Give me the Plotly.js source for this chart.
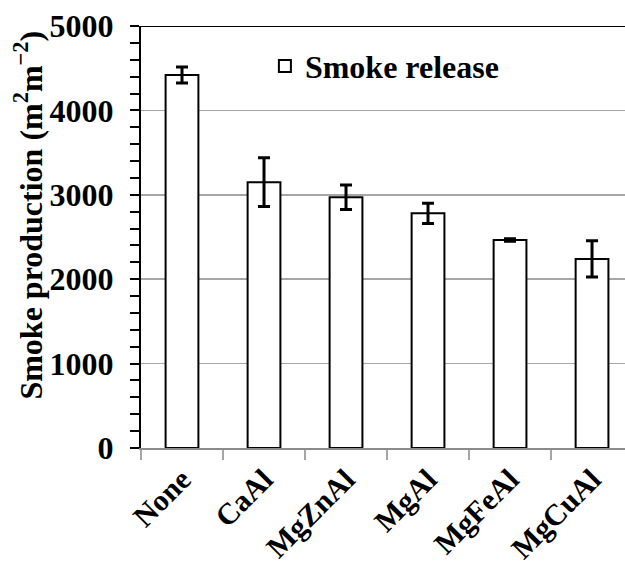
<!DOCTYPE html>
<html>
<head>
<meta charset="utf-8">
<script src="https://cdn.plot.ly/plotly-3.0.1.min.js"></script>
<style>html,body{margin:0;padding:0;background:#fff;}#chart{width:625px;height:570px;}</style>
</head>
<body>
<div id="chart"></div>
<script>
const categories = ['None', 'CaAl', 'MgZnAl', 'MgAl', 'MgFeAl', 'MgCuAl'];
const smokeRelease = [4420, 3150, 2970, 2780, 2465, 2240];
const smokeError = [95, 290, 145, 120, 15, 215];
const yTickValues = [0, 1000, 2000, 3000, 4000, 5000];
const yTickLabels = ['0', '1000', '2000', '3000', '4000', '5000'];
const yTitle = 'Smoke production (m<sup>2</sup>m<sup>\u22122</sup>)';

const FONT = 'Liberation Serif, Times New Roman, serif';
const SIZE = 32;

const trace = {
  type: 'bar',
  name: 'Smoke release',
  x: categories,
  y: smokeRelease,
  width: 0.4,
  marker: { color: '#ffffff', line: { color: '#000000', width: 2 } },
  error_y: { type: 'data', array: smokeError, visible: true, color: '#000000', thickness: 3, width: 6 }
};

const layout = {
  width: 625,
  height: 570,
  autosize: false,
  margin: { l: 141, r: 0, t: 26, b: 122, pad: 0 },
  paper_bgcolor: '#ffffff',
  plot_bgcolor: '#ffffff',
  font: { family: FONT, size: SIZE, color: '#000000', weight: 'bold' },
  showlegend: true,
  legend: {
    x: 0.256, xanchor: 'left', y: 0.905, yanchor: 'middle',
    bgcolor: 'rgba(0,0,0,0)',
    font: { family: FONT, size: SIZE, color: '#000000', weight: 'bold' }
  },
  xaxis: {
    type: 'category',
    range: [-0.5, 5.402],
    showline: true, linecolor: '#8c8c8c', linewidth: 2,
    ticks: 'outside', tickson: 'boundaries', ticklen: 10, tickwidth: 1.5, tickcolor: '#a6a6a6',
    tickangle: -45,
    ticklabelstandoff: 0,
    tickfont: { family: FONT, size: 30, color: '#000000', weight: 'bold' },
    showgrid: false, zeroline: false, fixedrange: true
  },
  yaxis: {
    range: [0, 5000],
    tickmode: 'array', tickvals: yTickValues, ticktext: yTickLabels,
    showline: true, linecolor: '#000000', linewidth: 2,
    ticks: 'outside', ticklen: 9, tickwidth: 2, tickcolor: '#000000',
    ticklabelstandoff: 10,
    minor: { dtick: 200, ticks: 'outside', ticklen: 9, tickwidth: 2, tickcolor: '#000000', showgrid: false },
    showgrid: true, gridcolor: '#a6a6a6', gridwidth: 1.5,
    zeroline: false,
    tickfont: { family: FONT, size: SIZE, color: '#000000', weight: 'bold' },
    fixedrange: true
  },
  annotations: [{
    text: yTitle,
    xref: 'paper', yref: 'paper',
    x: -0.2335, y: 0.553,
    xanchor: 'center', yanchor: 'middle',
    textangle: -90,
    showarrow: false,
    font: { family: FONT, size: SIZE, color: '#000000', weight: 'bold' }
  }],
  shapes: [{
    type: 'line', xref: 'paper', yref: 'y', x0: 0, x1: 1, y0: 5000, y1: 5000,
    line: { color: '#000000', width: 2 }
  }]
};

Plotly.newPlot('chart', [trace], layout, { displayModeBar: false, staticPlot: true });
</script>
</body>
</html>
